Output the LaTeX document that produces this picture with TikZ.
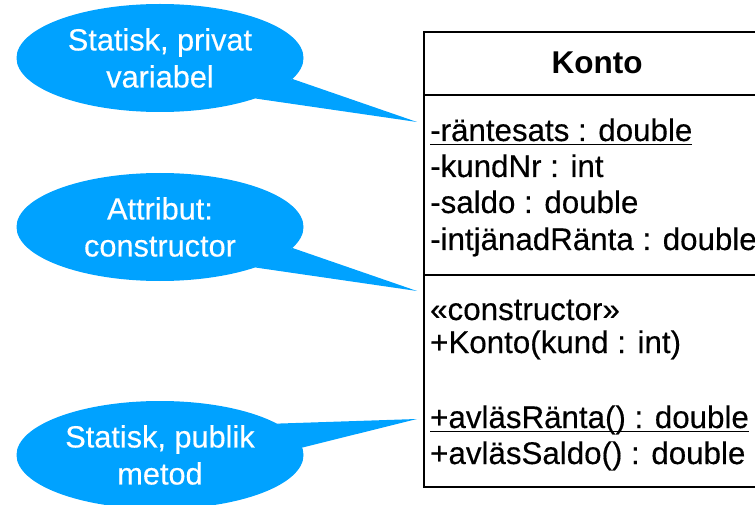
\documentclass[tikz,border=0pt]{standalone}
\usepackage{fontspec}
\setmainfont{Liberation Sans}
\newfontfamily\medfont[FakeBold=0.35]{Liberation Sans}
\usetikzlibrary{shapes.geometric}
\definecolor{bubblecol}{RGB}{0,162,255}
\newcommand{\staticul}[1]{\underline{\smash{#1}\rule[-2pt]{0pt}{1pt}}}
\begin{document}
\begin{tikzpicture}[x=1pt,y=-1pt,
  bubblenode/.style={ellipse, fill=bubblecol, minimum width=287pt, minimum height=108pt, inner sep=0pt, text=white, align=center, font=\medfont\fontsize{30.7}{37}\selectfont},
  member/.style={anchor=base west, inner sep=0pt, font=\medfont\fontsize{31.3}{36}\selectfont},
  tailfill/.style={fill=bubblecol},
  boxline/.style={line width=2pt}]
\clip (0,0) rectangle (755,505);
\useasboundingbox (0,0) rectangle (755,505);

% class box
\node[draw, boxline, minimum width=347pt, minimum height=455pt, anchor=north west, inner sep=0pt] (cls) at (423,31) {};
\coordinate (s1) at (423,95);
\coordinate (s2) at (423,275);
\draw[boxline] (s1) -- (s1 -| cls.east);
\draw[boxline] (s2) -- (s2 -| cls.east);

\node[anchor=base, inner sep=0pt, font=\bfseries\fontsize{31.5}{36}\selectfont] (title) at (597,74) {Konto};

\node[member] (m1) at (430,141) {\staticul{-räntesats : double}};
\node[member] (m2) at (430,177) {-kundNr : int};
\node[member] (m3) at (430,213) {-saldo : double};
\node[member] (m4) at (430,250) {-intjänadRänta : double};
\node[member] (o1) at (430,320) {«constructor»};
\node[member] (o2) at (430,353) {+Konto(kund : int)};
\node[member] (o3) at (430,428) {\staticul{+avläsRänta() : double}};
\node[member] (o4) at (430,464) {+avläsSaldo() : double};

% bubbles
\node[bubblenode] (b1) at (160,58) {Statisk, privat\\variabel};
\node[bubblenode] (b2) at (160,227) {Attribut:\\constructor};
\node[bubblenode] (b3) at (160,455) {Statisk, publik\\metod};

\coordinate (t1) at (417,122);
\coordinate (t2) at (417,291);
\coordinate (t3) at (417,419);

\fill[tailfill] (b1.-9) -- (t1) -- (b1.-23) -- cycle;
\fill[tailfill] (b2.-9) -- (t2) -- (b2.-23) -- cycle;
\fill[tailfill] (b3.15) -- (t3) -- (b3.3) -- cycle;
\end{tikzpicture}
\end{document}
